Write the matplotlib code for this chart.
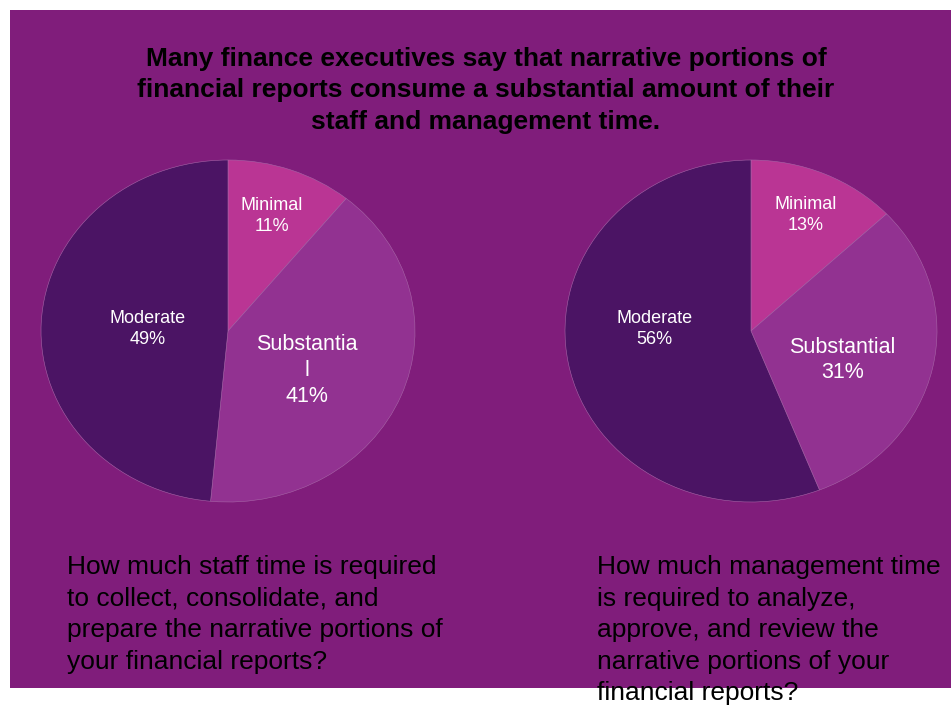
import matplotlib.pyplot as plt
from matplotlib.patches import Rectangle

plt.rcParams['font.family'] = ['Liberation Sans', 'DejaVu Sans']

# data
categories = ['Minimal', 'Substantial', 'Moderate']
staff_values = [11, 41, 49]
mgmt_values = [13, 31, 56]
staff_labels = ['Minimal\n11%', 'Substantia\nl\n41%', 'Moderate\n49%']
mgmt_labels = ['Minimal\n13%', 'Substantial\n31%', 'Moderate\n56%']

colors = ['#BA3594', '#923291', '#4B1464']
bg = '#801D7B'

title = ("Many finance executives say that narrative portions of\n"
         "financial reports consume a substantial amount of their\n"
         "staff and management time.")
q_staff = ("How much staff time is required\nto collect, consolidate, and\n"
           "prepare the narrative portions of\nyour financial reports?")
q_mgmt = ("How much management time\nis required to analyze,\n"
          "approve, and review the\nnarrative portions of your\nfinancial reports?")

W, H = 951, 705
fig = plt.figure(figsize=(W / 100, H / 100), dpi=100)
fig.patch.set_facecolor('white')
fig.patches.append(Rectangle((10 / W, (H - 688) / H), 1, (688 - 10) / H,
                             transform=fig.transFigure, facecolor=bg,
                             edgecolor='none', zorder=-5))

fig.text(486 / W, 1 - 47 / H, title, ha='center', va='top', fontsize=19,
         fontweight='bold', color='black', linespacing=1.39)


def draw_pie(rect, values, labels, label_pos, label_sizes):
    ax = fig.add_axes(rect)
    ax.pie(values, colors=colors, startangle=90, counterclock=False,
           wedgeprops=dict(edgecolor='#A865A8', linewidth=0.4))
    ax.set_aspect('auto')
    ax.set_xlim(-1, 1)
    ax.set_ylim(-1, 1)
    ax.axis('off')
    for lab, (x, y), fs in zip(labels, label_pos, label_sizes):
        ax.text(x, y, lab, ha='center', va='center', color='white',
                fontsize=fs, linespacing=1.3)
    return ax


draw_pie([41 / W, (H - 502) / H, 374 / W, 342 / H], staff_values, staff_labels,
         [(0.235, 0.67), (0.42, -0.23), (-0.43, 0.01)], [13, 15.5, 13])
draw_pie([565 / W, (H - 502) / H, 372 / W, 342 / H], mgmt_values, mgmt_labels,
         [(0.295, 0.68), (0.49, -0.17), (-0.52, 0.01)], [13, 15.5, 13])

fig.text(67 / W, 1 - 555 / H, q_staff, ha='left', va='top', fontsize=19,
         color='black', linespacing=1.40)
fig.text(597 / W, 1 - 555 / H, q_mgmt, ha='left', va='top', fontsize=19,
         color='black', linespacing=1.40)

fig.savefig('out.png', dpi=100, facecolor=fig.get_facecolor())
